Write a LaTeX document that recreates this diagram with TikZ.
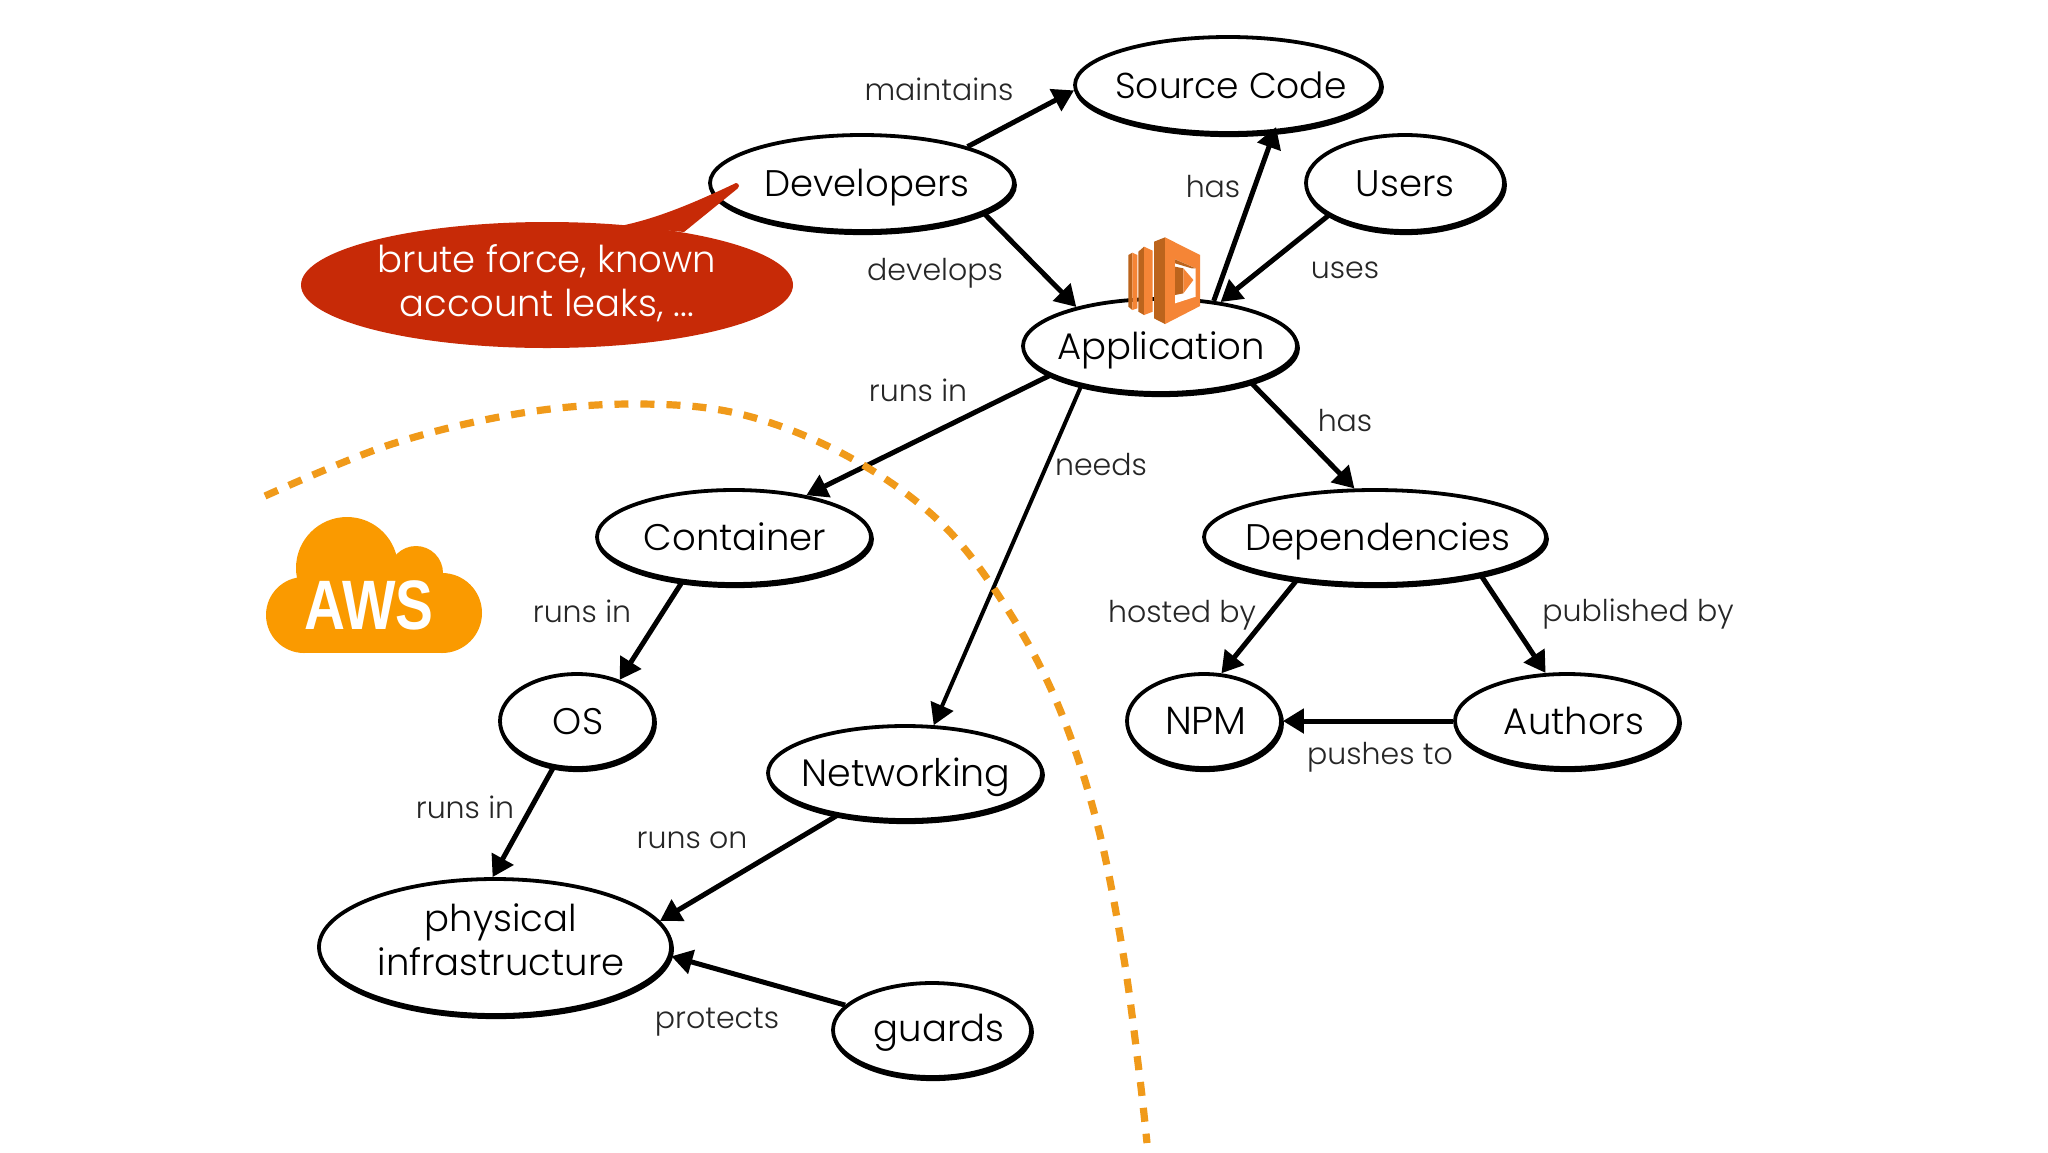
\documentclass[tikz,border=0pt]{standalone}
\usepackage{fontspec}
\setmainfont[UprightFont=* Light,BoldFont=* Medium]{Poppins}
\newfontfamily\awsfont[BoldFont=* Bold]{Liberation Sans}
\usetikzlibrary{shapes.geometric,arrows.meta}
\definecolor{bubblered}{HTML}{C72A07}
\definecolor{awsorange}{HTML}{FA9A00}
\definecolor{dashorange}{HTML}{F09A1A}
\definecolor{lamlight}{HTML}{F58536}
\definecolor{lamdark}{HTML}{BC641C}
\newcommand{\off}[1]{\hspace*{#1pt}}
\tikzset{
  ent/.style={ellipse,draw=black,fill=white,line width=1.9pt,inner sep=-20pt,align=center,
    text height=13.5pt,text depth=0pt,
    font=\fontsize{18.5}{22}\selectfont,
    preaction={draw=black,line width=1.9pt,transform canvas={yshift=-1.1pt,xshift=.5pt}}},
  rel/.style={font=\fontsize{15}{18}\selectfont,text=black!85,inner sep=0pt,anchor=base,yshift=-5.5pt},
  link/.style={line width=2.5pt,black,-{Triangle[width=12pt,length=10.5pt]}},
}
\begin{document}
\begin{tikzpicture}[x=.5pt,y=-.5pt]
\useasboundingbox[fill=white] (0,0) rectangle (2048,1152);
% entities
\node[ent,minimum width=153pt,minimum height=48pt,font=\fontsize{18}{22}\selectfont] (src) at (1228,85) {\off{3}Source Code};
\node[ent,minimum width=152pt,minimum height=48pt] (dev) at (862,183) {\off{5}Developers};
\node[ent,minimum width=99pt,minimum height=48pt] (usr) at (1405,183) {Users};
\node[ent,minimum width=137pt,minimum height=47pt] (app) at (1160,346) {\off{1}Application};
\node[ent,minimum width=137pt,minimum height=47pt] (con) at (734,537) {\off{1}Container};
\node[ent,minimum width=171pt,minimum height=47pt] (dep) at (1375,537) {\off{3}Dependencies};
\node[ent,minimum width=77pt,minimum height=47pt] (os) at (577,721) {\off{1}OS};
\node[ent,minimum width=77pt,minimum height=47pt,font=\fontsize{19.5}{22}\selectfont] (npm) at (1204,721) {\off{2}NPM};
\node[ent,minimum width=112pt,minimum height=47pt] (aut) at (1567,721) {\off{7}Authors};
\node[ent,minimum width=137pt,minimum height=47pt,font=\fontsize{19}{22}\selectfont] (net) at (905,773) {\off{1}Networking};
\node[ent,minimum width=176pt,minimum height=68pt,text height=28.5pt] (phy) at (495,947) {\off{6}physical\\\off{6}infrastructure};
\node[ent,minimum width=99pt,minimum height=47pt,text depth=2pt] (grd) at (932,1030) {\off{7}guards};
% connectors
\draw[link] (dev.19) -- (src.182);
\draw[link] (dev.-14) -- (app.155);
\draw[link,shorten >=-3pt] (app.40) -- (src.-46);
\draw[link] (usr.203) -- (app.36);
\draw[link] (app.195) -- (con.30);
\draw[link,line width=2pt] (app.207) -- (net.59);
\draw[link] (app.-22) -- (dep.113);
\draw[link] (con.221) -- (os.44);
\draw[link] (os.243) -- (phy.92);
\draw[link] (net.212) -- (phy.9);
\draw[link] (grd.164) -- (phy.-3);
\draw[link] (dep.209) -- (npm.70);
\draw[link] (dep.-20) -- (aut.114);
\draw[link] (aut.180) -- (npm.0);
% relation labels
\node[rel] (l1) at (939,89) {maintains};
\node[rel] (l2) at (1213,186) {has};
\node[rel] (l3) at (935,269) {develops};
\node[rel] (l4) at (1345,267) {uses};
\node[rel] (l5) at (918,390) {runs in};
\node[rel] (l6) at (1345,420) {has};
\node[rel] (l7) at (1101,464) {needs};
\node[rel] (l8) at (582,611) {runs in};
\node[rel] (l9) at (1182,611) {hosted by};
\node[rel] (l10) at (1638,610) {published by};
\node[rel] (l11) at (1380,753) {pushes to};
\node[rel] (l12) at (465,807) {runs in};
\node[rel] (l13) at (692,837) {runs on};
\node[rel] (l14) at (717,1017) {protects};
% dashed boundary
\draw[dashorange,line width=3.6pt,dash pattern=on 7pt off 6pt]
  plot[smooth,tension=.6] coordinates {(265,496) (392,444) (522,413) (640,404) (744,415) (849,457) (940,522) (1006,607) (1058,705) (1097,823) (1123,953) (1139,1071) (1147,1143)};
% speech bubble
\node[ellipse,fill=bubblered,text=white,inner sep=0pt,minimum width=246pt,minimum height=63pt] (bub) at (547,285) {};
\fill[bubblered] (620,226) .. controls (660,218) and (700,200) .. (736,183)
  arc[start angle=-90,end angle=60,radius=3] -- (684,232) -- cycle;
\node[text=white,align=center,font=\fontsize{18.5}{22}\selectfont,yshift=1pt] (bubtxt) at (bub.center) {brute force, known\\account leaks, ...};
% AWS cloud
\begin{scope}[awsorange]
\fill (347,568) circle[radius=51];
\fill (416,573) circle[radius=27];
\fill (304,615) circle[radius=38];
\fill (442,613) circle[radius=40];
\fill (304,577) rectangle (442,653);
\end{scope}
\node[text=white,inner sep=0pt,font=\awsfont\bfseries\fontsize{35}{35}\selectfont,xscale=.81,transform shape] (aws) at (369,605) {AWS};
% lambda icon
\begin{scope}[shift={(1050,200)},x=.1667pt,y=-.1667pt]
\fill[lamdark] (235,165) -- (247,158) -- (247,330) -- (235,320) -- cycle;
\fill[lamlight] (247,158) -- (262,165) -- (262,325) -- (247,330) -- cycle;
\fill[lamdark] (265,155) -- (282,140) -- (282,345) -- (265,335) -- cycle;
\fill[lamlight] (282,140) -- (308,152) -- (308,335) -- (282,345) -- cycle;
\fill[lamdark] (312,125) -- (345,112) -- (345,372) -- (312,355) -- cycle;
\fill[lamlight] (345,112) -- (450,165) -- (450,318) -- (345,372) -- cycle;
\fill[white] (375,178) -- (437,205) -- (437,290) -- (375,310) -- cycle;
\fill[lamdark] (375,178) -- (437,205) -- (425,205) -- (375,190) -- cycle;
\fill[lamdark] (375,200) -- (400,205) -- (400,280) -- (375,285) -- cycle;
\fill[lamlight] (400,205) -- (430,240) -- (400,280) -- cycle;
\end{scope}
\end{tikzpicture}
\end{document}
